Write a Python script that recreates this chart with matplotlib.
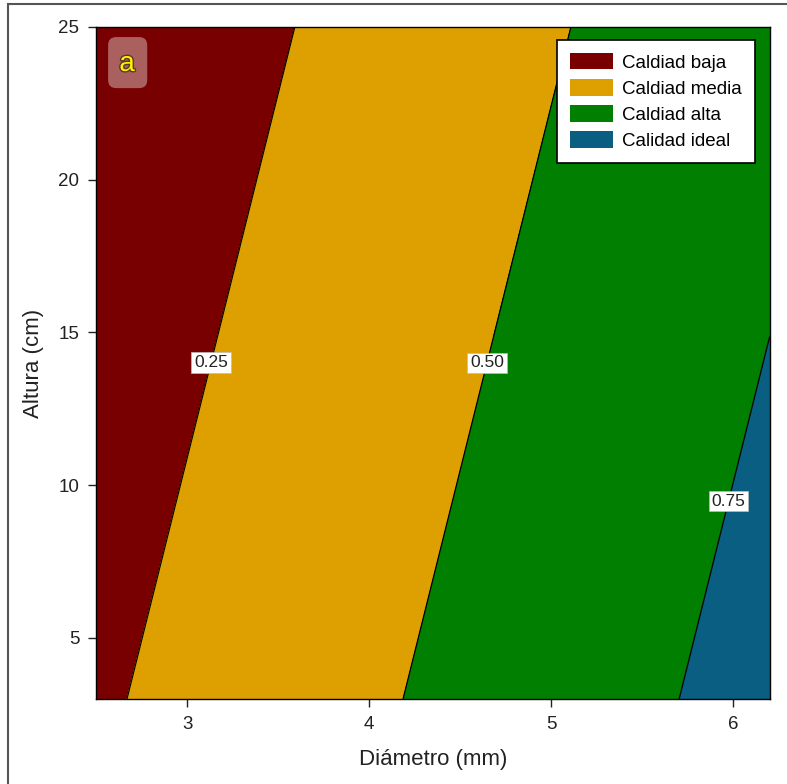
import numpy as np
import matplotlib
matplotlib.use("Agg")
import matplotlib.pyplot as plt
from matplotlib.patches import Patch, Rectangle, FancyBboxPatch
import matplotlib.patheffects as pe

plt.rcParams['font.family'] = ['Liberation Sans', 'DejaVu Sans']

# Data: corner values of the (planar) response surface
diametro = [2.5, 6.2]          # mm
altura = [3.0, 25.0]           # cm
calidad = [[0.222, 0.832],     # altura = 3
           [0.070, 0.680]]     # altura = 25
niveles = [0.0, 0.25, 0.50, 0.75, 1.0]
colores = ['#790000', '#DDA000', '#007F00', '#0A5E82']
categorias = ['Caldiad baja', 'Caldiad media', 'Caldiad alta', 'Calidad ideal']
lineas = [0.25, 0.50, 0.75]
pos_etiquetas = [(3.14, 14.0), (4.65, 14.0), (5.96, 9.5)]

fig = plt.figure(figsize=(7.87, 7.84), dpi=100)
ax = fig.add_axes([0.122, 0.1084, 0.856, 0.8572])

X, Y = np.meshgrid(diametro, altura)
Z = np.array(calidad)
ax.contourf(X, Y, Z, levels=niveles, colors=colores)
cs = ax.contour(X, Y, Z, levels=lineas, colors='black', linewidths=0.9)
labels = ax.clabel(cs, fmt='%.2f', manual=pos_etiquetas, inline=False, fontsize=12.5)
for t in labels:
    t.set_fontsize(12.5)
    t.set_color('#222222')
    t.set_bbox(dict(boxstyle='square,pad=0.15', fc='white', ec='#BBBBBB', lw=0.5))
    t.set_rotation(0)

ax.set_xlim(2.5, 6.2)
ax.set_ylim(3, 25)
ax.set_xticks([3, 4, 5, 6])
ax.set_yticks([5, 10, 15, 20, 25])
ax.tick_params(labelsize=13.5, length=6, width=1, colors='#222222', pad=6)
ax.set_xlabel('Diámetro (mm)', fontsize=16, labelpad=12, color='#222222')
ax.set_ylabel('Altura (cm)', fontsize=16, labelpad=10, color='#222222')
for s in ax.spines.values():
    s.set_linewidth(1.0)

handles = [Patch(facecolor=c, edgecolor='none') for c in colores]
leg = ax.legend(handles, categorias, loc='upper right', bbox_to_anchor=(0.978, 0.98),
                fontsize=13.5, frameon=True, fancybox=False, edgecolor='black',
                handlelength=2.3, handleheight=0.96, labelspacing=0.4,
                borderpad=0.68, handletextpad=0.5, borderaxespad=0.0)
leg.get_frame().set_linewidth(1.2)
leg.get_frame().set_alpha(1.0)

# panel tag "a"
tag_box = FancyBboxPatch((0.018, 0.909), 0.058, 0.076, transform=ax.transAxes,
                         boxstyle='round,pad=0.0,rounding_size=0.012',
                         fc='white', ec='none', alpha=0.38, zorder=5)
ax.add_patch(tag_box)
ax.text(0.046, 0.945, 'a', transform=ax.transAxes, fontsize=20,
        color='#FFF200', ha='center', va='center', zorder=6,
        path_effects=[pe.withStroke(linewidth=2, foreground='#5A3A20')])

# outer frame of the figure
fig.patches.append(Rectangle((8 / 787, -0.1), 1.2, 1 - 4 / 784 + 0.1,
                             transform=fig.transFigure, fill=False,
                             ec='#555555', lw=1.5))

fig.savefig('out.png', dpi=100)
